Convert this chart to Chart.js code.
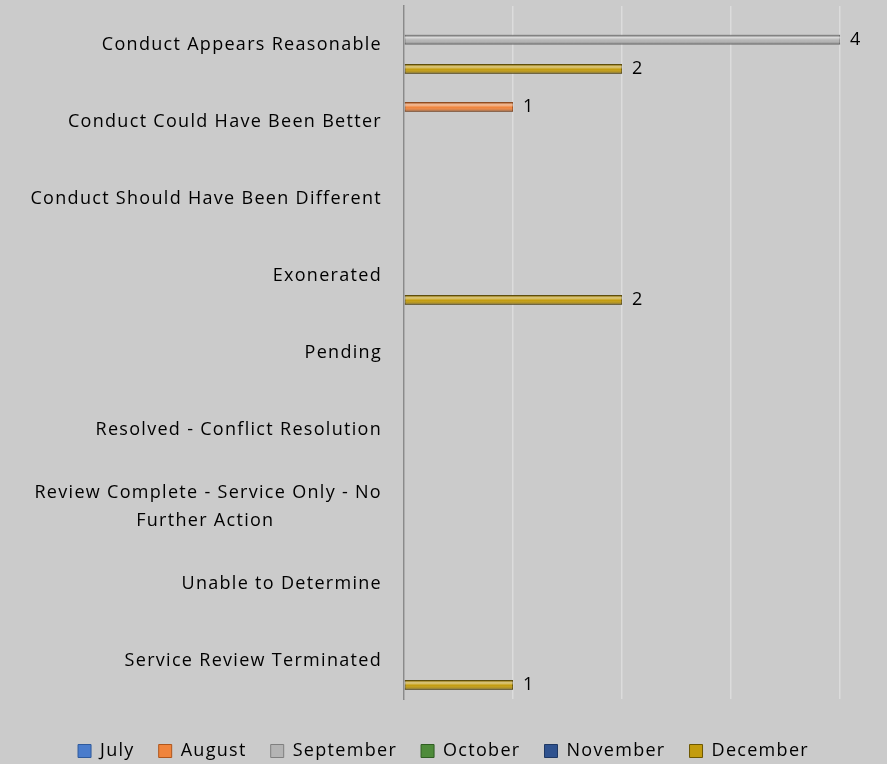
<!DOCTYPE html>
<html>
<head>
<meta charset="utf-8">
<script src="https://cdn.jsdelivr.net/npm/chart.js@4"></script>
<style>
  html, body { margin: 0; padding: 0; background: #cbcbcb; }
  #wrap { width: 887px; height: 764px; }
</style>
</head>
<body>
<div id="wrap"><canvas id="myChart" width="887" height="764"></canvas></div>
<script>
// categories (top to bottom)
var categories = [
	'Conduct Appears Reasonable',
	'Conduct Could Have Been Better',
	'Conduct Should Have Been Different',
	'Exonerated',
	'Pending',
	'Resolved - Conflict Resolution',
	['Review Complete - Service Only - No', 'Further Action                  '],
	'Unable to Determine',
	'Service Review Terminated'
];
var months = ['July', 'August', 'September', 'October', 'November', 'December'];

// counts per month, null = nothing recorded
var july      = [null, null, null, null, null, null, null, null, null];
var august    = [null, 1,    null, null, null, null, null, null, null];
var september = [4,    null, null, null, null, null, null, null, null];
var october   = [null, null, null, null, null, null, null, null, null];
var november  = [null, null, null, null, null, null, null, null, null];
var december  = [2,    null, null, 2,    null, null, null, null, 1];

var xTicks = [0, 1, 2, 3, 4];
var xMax = 4.43; // axis runs a bit past the last gridline, value labels sit there

var fills   = ['#4a7ccc', '#f0843c', '#b4b4b4', '#4e8b3a', '#2f528f', '#c39c0e'];
var borders = ['#2f5a9c', '#b0561c', '#7f7f7f', '#2f5e22', '#1f3864', '#6e5800'];

var FONT = 'Open Sans';

function setSpacing(chart){
	chart.ctx.letterSpacing = '1.3px';
}

// cylinder-ish shading on top of each bar, plus value labels
var barLook = {
	id: 'barLook',
	beforeLayout: setSpacing,
	beforeDraw: setSpacing,
	afterDatasetsDraw: function(chart){
		var ctx = chart.ctx;
		ctx.save();
		chart.data.datasets.forEach(function(ds, i){
			var meta = chart.getDatasetMeta(i);
			meta.data.forEach(function(el, j){
				var v = ds.data[j];
				if (v === null || v === 0) return;
				var p = el.getProps(['x', 'y', 'base', 'height'], true);
				var top = p.y - p.height / 2;
				var g = ctx.createLinearGradient(0, top, 0, top + p.height);
				g.addColorStop(0, 'rgba(0,0,0,0.2)');
				g.addColorStop(0.28, 'rgba(255,255,255,0.5)');
				g.addColorStop(0.55, 'rgba(255,255,255,0)');
				g.addColorStop(1, 'rgba(0,0,0,0.4)');
				ctx.fillStyle = g;
				ctx.fillRect(p.base, top, p.x - p.base, p.height);

				ctx.fillStyle = '#000';
				ctx.letterSpacing = '0px';
				ctx.font = '18px "' + FONT + '"';
				ctx.textAlign = 'left';
				ctx.textBaseline = 'middle';
				ctx.fillText(String(v), p.x + 10, p.y);
			});
		});
		ctx.restore();
	}
};

function noEdgePad(s){
	s.paddingTop = 0;
	s.paddingBottom = 0;
	s.paddingLeft = 0;
	s.paddingRight = 0;
}

var series = [july, august, september, october, november, december];
var datasets = months.map(function(m, i){
	return {
		label: m,
		data: series[i],
		backgroundColor: fills[i],
		borderColor: borders[i],
		borderWidth: 1,
		borderSkipped: false,
		categoryPercentage: 0.76,
		barPercentage: 1.0
	};
});

var ctx = document.getElementById('myChart');
var myChart = new Chart(ctx, {
	type: 'bar',
	data: {
		labels: categories,
		datasets: datasets
	},
	options: {
		indexAxis: 'y',
		responsive: false,
		animation: false,
		layout: { autoPadding: false, padding: { top: 6, right: 0, bottom: -6, left: 0 } },
		scales: {
			x: {
				min: 0,
				max: xMax,
				afterBuildTicks: function(s){ s.ticks = xTicks.map(function(v){ return { value: v }; }); },
				ticks: { display: false },
				grid: { color: '#dcdcdc', lineWidth: 1.5, drawTicks: false },
				border: { display: false },
				afterFit: function(s){ s.height = 19; noEdgePad(s); }
			},
			y: {
				grid: { display: false, drawTicks: false },
				border: { display: true, color: '#8a8a8a', width: 1.5 },
				ticks: {
					color: '#000',
					padding: 22,
					autoSkip: false,
					font: { family: FONT, size: 18, lineHeight: 1.55 }
				},
				afterFit: function(s){ s.width = 404; noEdgePad(s); }
			}
		},
		plugins: {
			legend: {
				position: 'bottom',
				labels: {
					color: '#000',
					boxWidth: 13,
					boxHeight: 13,
					padding: 24,
					font: { family: FONT, size: 18 }
				}
			},
			tooltip: { enabled: false }
		}
	},
	plugins: [barLook]
});
</script>
</body>
</html>
